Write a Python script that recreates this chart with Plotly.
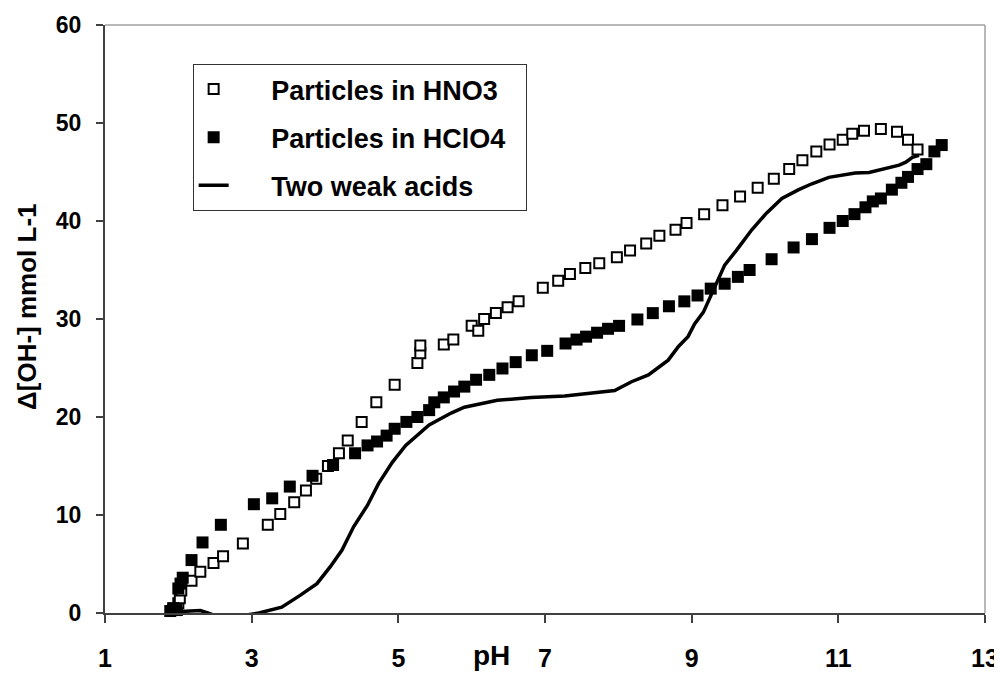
import plotly.graph_objects as go

# ---- data ----
hno3_ph = [1.93, 1.98, 2.00, 2.02, 2.04, 2.18, 2.30, 2.48, 2.61, 2.88, 3.22, 3.39, 3.58, 3.74, 3.88,
           4.04, 4.19, 4.31, 4.50, 4.70, 4.95, 5.26, 5.30, 5.30, 5.62, 5.75, 6.00, 6.09, 6.17, 6.33,
           6.49, 6.64, 6.97, 7.18, 7.34, 7.55, 7.74, 7.98, 8.16, 8.38, 8.56, 8.78, 8.93, 9.17, 9.42,
           9.66, 9.90, 10.12, 10.33, 10.51, 10.70, 10.88, 11.06, 11.19, 11.35, 11.58, 11.80, 11.95, 12.08]
hno3_oh = [0.3, 0.3, 1.0, 1.5, 2.3, 3.3, 4.2, 5.1, 5.8, 7.1, 9.0, 10.1, 11.3, 12.5, 13.7,
           15.0, 16.3, 17.6, 19.5, 21.5, 23.3, 25.5, 26.5, 27.3, 27.4, 27.9, 29.3, 28.8, 30.0, 30.6,
           31.2, 31.8, 33.2, 33.9, 34.6, 35.2, 35.7, 36.3, 37.0, 37.7, 38.5, 39.1, 39.8, 40.7, 41.6,
           42.5, 43.4, 44.3, 45.3, 46.2, 47.1, 47.8, 48.3, 48.9, 49.2, 49.4, 49.1, 48.3, 47.3]

hclo4_ph = [1.89, 1.93, 1.97, 2.00, 2.03, 2.06, 2.18, 2.33, 2.58, 3.03, 3.28, 3.52, 3.83, 4.11, 4.41,
            4.58, 4.71, 4.84, 4.95, 5.11, 5.26, 5.42, 5.49, 5.62, 5.76, 5.90, 6.06, 6.24, 6.42, 6.60,
            6.82, 7.03, 7.28, 7.43, 7.56, 7.71, 7.86, 8.01, 8.26, 8.47, 8.69, 8.90, 9.08, 9.26, 9.45,
            9.63, 9.79, 10.09, 10.39, 10.64, 10.88, 11.06, 11.22, 11.37, 11.47, 11.58, 11.73, 11.86,
            11.95, 12.08, 12.20, 12.31, 12.41]
hclo4_oh = [0.2, 0.5, 0.3, 2.5, 3.0, 3.6, 5.4, 7.2, 9.0, 11.1, 11.7, 12.9, 14.0, 15.1, 16.3,
            17.1, 17.5, 18.1, 18.8, 19.5, 20.0, 20.7, 21.5, 22.0, 22.6, 23.1, 23.8, 24.3, 24.95, 25.6,
            26.3, 26.75, 27.5, 27.9, 28.2, 28.6, 29.0, 29.3, 29.95, 30.6, 31.3, 31.8, 32.4, 33.1, 33.6,
            34.3, 35.0, 36.1, 37.3, 38.15, 39.3, 40.0, 40.7, 41.4, 42.0, 42.3, 43.2, 43.9,
            44.5, 45.3, 45.8, 47.1, 47.75]

weak_ph = [1.88, 2.07, 2.30, 2.40, 2.50, 2.70, 2.89, 3.10, 3.25, 3.41, 3.66, 3.89, 4.07, 4.23, 4.39,
           4.58, 4.73, 4.92, 5.10, 5.42, 5.72, 5.90, 6.35, 6.81, 7.27, 7.63, 7.95, 8.18, 8.41, 8.68,
           8.82, 8.95, 9.04, 9.16, 9.23, 9.30, 9.37, 9.45, 9.61, 9.82, 10.02, 10.23, 10.46, 10.64,
           10.87, 11.05, 11.23, 11.42, 11.64, 11.83, 11.92, 12.01, 12.10]
weak_oh = [0.1, 0.2, 0.25, 0.0, -0.25, -0.25, -0.25, 0.0, 0.3, 0.6, 1.8, 3.0, 4.7, 6.4, 8.8,
           11.0, 13.2, 15.4, 17.1, 19.2, 20.4, 21.0, 21.7, 22.0, 22.15, 22.4, 22.7, 23.6, 24.3, 25.8,
           27.2, 28.2, 29.5, 30.7, 31.9, 33.0, 34.3, 35.5, 37.0, 39.1, 40.8, 42.3, 43.2, 43.8,
           44.45, 44.7, 44.9, 44.95, 45.4, 45.7, 46.0, 46.5, 46.7]

names = ["Particles in HNO3", "Particles in HClO4", "Two weak acids"]
x_ticks = [1, 3, 5, 7, 9, 11, 13]
y_ticks = [0, 10, 20, 30, 40, 50, 60]

FONT = "Liberation Sans, Arial, sans-serif"
NB = "\u00a0"
LEAD = NB * 5
TRAIL = NB * 2

fig = go.Figure()
fig.add_trace(go.Scatter(
    x=hno3_ph, y=hno3_oh, mode="markers", name=LEAD + names[0] + TRAIL,
    legendgroup="a", cliponaxis=False,
    marker=dict(symbol="square", size=10, color="white", line=dict(color="black", width=2)),
))
fig.add_trace(go.Scatter(
    x=hclo4_ph, y=hclo4_oh, mode="markers", name=LEAD + names[1] + TRAIL,
    legendgroup="b", cliponaxis=False,
    marker=dict(symbol="square", size=12, color="black", line=dict(width=0)),
))
fig.add_trace(go.Scatter(
    x=weak_ph, y=weak_oh, mode="lines", name=LEAD + names[2] + TRAIL,
    legendgroup="c",
    line=dict(color="black", width=3.5),
))

axis_common = dict(
    showgrid=False, zeroline=False, showline=True, linecolor="#404040", linewidth=2,
    ticks="outside", tickcolor="#404040", tickwidth=1.5, automargin=False,
)
fig.update_xaxes(range=[1, 13], tickvals=x_ticks, ticklen=8, ticklabelstandoff=14,
                 tickfont=dict(family=FONT, size=25, color="black", weight="bold"), **axis_common)
fig.update_yaxes(range=[0, 60], tickvals=y_ticks, ticklen=7, ticklabelstandoff=10,
                 tickfont=dict(family=FONT, size=23, color="black", weight="bold"), **axis_common)

# page body adds an 8px offset, so the figure is sized to fit inside the window
fig.update_layout(
    width=994, height=667,
    margin=dict(l=97, r=17, t=17, b=62),
    plot_bgcolor="white", paper_bgcolor="white",
    font=dict(family=FONT, color="black"),
    legend=dict(
        x=0.0996, y=0.9336, xanchor="left", yanchor="top",
        bgcolor="white", bordercolor="#333333", borderwidth=1,
        font=dict(family=FONT, size=27, color="black", weight="bold"),
        tracegroupgap=10,
    ),
    shapes=[
        dict(type="line", xref="paper", yref="paper", x0=0, x1=1, y0=1, y1=1,
             line=dict(color="#a0a0a0", width=1.5)),
        dict(type="line", xref="paper", yref="paper", x0=1, x1=1, y0=0, y1=1,
             line=dict(color="#a0a0a0", width=1.5)),
    ],
    annotations=[
        dict(text="pH", xref="paper", yref="paper", x=0.439, y=-0.072,
             xanchor="center", yanchor="middle", showarrow=False,
             font=dict(family=FONT, size=28, color="black", weight="bold")),
        dict(text="\u0394[OH-] mmol L-1", xref="paper", yref="paper", x=-0.0895, y=0.521,
             xanchor="center", yanchor="middle", showarrow=False, textangle=-90,
             font=dict(family=FONT, size=26, color="black", weight="bold")),
    ],
)

fig.write_html("out.html")
